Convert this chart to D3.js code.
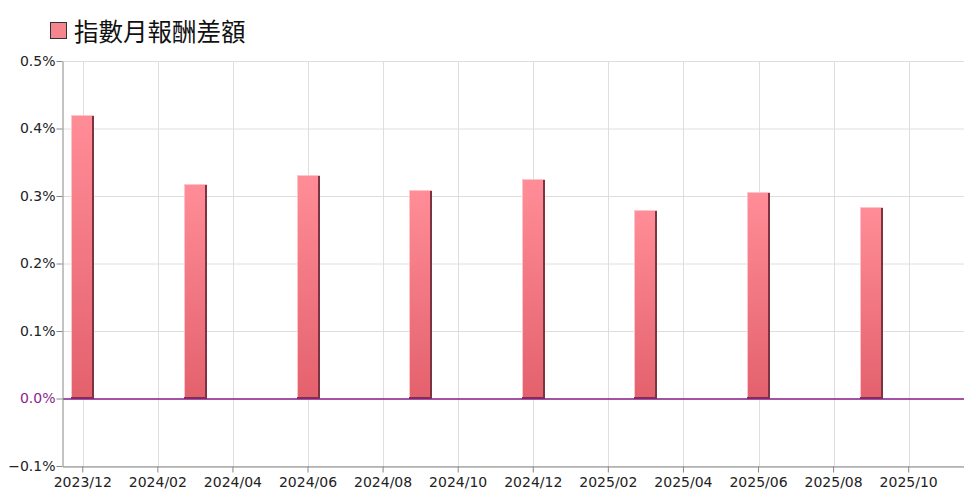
<!DOCTYPE html>
<html><head><meta charset="utf-8">
<script src="https://cdn.jsdelivr.net/npm/d3@7"></script>
<style>body{margin:0;background:#fff}svg{display:block}</style>
</head><body><svg id="c" width="976" height="503"></svg>
<script>
const seriesName = "指數月報酬差額";
const months = ["2023/12","2024/01","2024/02","2024/03","2024/04","2024/05","2024/06","2024/07","2024/08","2024/09","2024/10","2024/11","2024/12","2025/01","2025/02","2025/03","2025/04","2025/05","2025/06","2025/07","2025/08","2025/09","2025/10","2025/11"];
const barMonths = ["2023/12","2024/03","2024/06","2024/09","2024/12","2025/03","2025/06","2025/09"];
const barValues = [0.420, 0.318, 0.331, 0.309, 0.325, 0.279, 0.306, 0.283];
const xTickLabels = ["2023/12","2024/02","2024/04","2024/06","2024/08","2024/10","2024/12","2025/02","2025/04","2025/06","2025/08","2025/10"];
const yTicks = [-0.1, 0, 0.1, 0.2, 0.3, 0.4, 0.5];

const svg = d3.select("#c");
const L = 63, R = 964, T = 61, B = 466;
const x = d3.scaleBand().domain(months).range([L + 1, R + 1]);
const xc = m => x(m) + x.bandwidth() / 2;
const y = d3.scaleLinear().domain([-0.1, 0.5]).range([B, T]);

const defs = svg.append("defs");
const g = defs.append("linearGradient").attr("id","bg").attr("x1",0).attr("y1",0).attr("x2",0).attr("y2",1);
g.append("stop").attr("offset","0%").attr("stop-color","#ff8d97");
g.append("stop").attr("offset","100%").attr("stop-color","#e3616d");

// grid
svg.append("g").selectAll("line").data(yTicks).join("line")
  .attr("x1", L).attr("x2", R).attr("y1", d => y(d)+0.5).attr("y2", d => y(d)+0.5)
  .attr("stroke", "#dedede");
svg.append("g").selectAll("line").data(xTickLabels).join("line")
  .attr("x1", d => Math.round(xc(d))+0.5).attr("x2", d => Math.round(xc(d))+0.5)
  .attr("y1", T).attr("y2", B).attr("stroke", "#dedede");

// bars
const bw = 23;
const bars = svg.append("g").selectAll("g").data(barMonths.map((m,i)=>({m, v: barValues[i]}))).join("g");
const bx = d => Math.round(xc(d.m) - bw/2);
const by = d => Math.round(y(d.v));
const bh = d => Math.round(y(0)) - Math.round(y(d.v));
bars.append("rect").attr("x", bx).attr("y", by).attr("width", bw).attr("height", bh).attr("fill", "url(#bg)");
bars.append("rect").attr("x", bx).attr("y", by).attr("width", 1).attr("height", bh).attr("fill", "#ffc4c9");
bars.append("rect").attr("x", bx).attr("y", by).attr("width", bw).attr("height", 1).attr("fill", "#ffc4c9");
bars.append("rect").attr("x", d => bx(d) + bw - 2).attr("y", d => by(d) + 1).attr("width", 2)
  .attr("height", d => bh(d) - 1).attr("fill", "#7d3442");
bars.append("rect").attr("x", bx).attr("y", d => Math.round(y(0)) - 2).attr("width", bw).attr("height", 2).attr("fill", "#7d3442");

// zero line
svg.append("line").attr("x1", L).attr("x2", R).attr("y1", y(0)+0.5).attr("y2", y(0)+0.5)
  .attr("stroke", "#8b1f8b").attr("stroke-width", 1.5);

// axes
const font = "DejaVu Sans, Verdana, sans-serif";
const ya = svg.append("g").attr("transform", `translate(${L-0.5},0)`)
  .call(d3.axisLeft(y).tickValues(yTicks).tickSize(6).tickSizeOuter(0).tickFormat(d => d3.format(".1f")(d) + "%"));
ya.select(".domain").attr("stroke", "#888");
ya.selectAll(".tick line").attr("stroke", "#888");
ya.selectAll(".tick text").attr("font-family", font).style("font-size", "14px").attr("fill", d => d === 0 ? "#8b1f8b" : "#222").attr("x", -7);

const xa = svg.append("g").attr("transform", `translate(0,${B+0.5})`)
  .call(d3.axisBottom(x).tickValues(xTickLabels).tickSize(6).tickSizeOuter(0));
xa.select(".domain").attr("stroke", "#888").attr("d", `M${L},0.5H${R}`);
xa.selectAll(".tick line").attr("stroke", "#888");
xa.selectAll(".tick text").attr("font-family", font).style("font-size", "14px").attr("fill", "#222").attr("dy", "0.85em");

// legend
svg.append("rect").attr("x", 50.5).attr("y", 22.5).attr("width", 16).attr("height", 16)
  .attr("fill", "#f78590").attr("stroke", "#333");
svg.append("text").attr("x", 74).attr("y", 41).attr("font-family", "Noto Sans CJK TC, sans-serif")
  .attr("font-size", 24.5).attr("fill", "#111").text(seriesName);
</script></body></html>
